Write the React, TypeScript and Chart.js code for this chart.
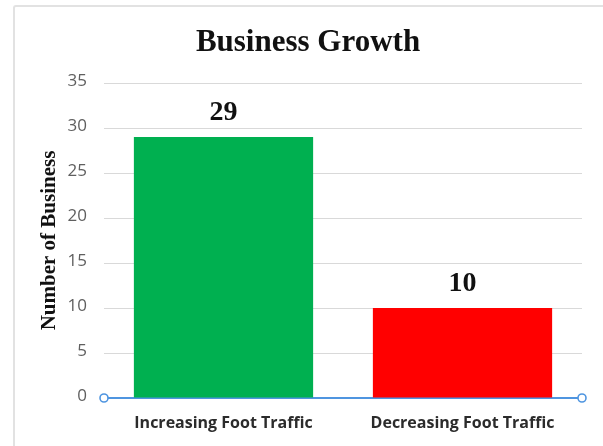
import React, { useEffect, useRef } from "react";
import { Chart, registerables } from "chart.js";

Chart.register(...registerables);

const categories = ["Increasing Foot Traffic", "Decreasing Foot Traffic"];
const businessCounts = [29, 10];
const barColors = ["#00B050", "#FF0000"];
const yTicks = [0, 5, 10, 15, 20, 25, 30, 35];
const chartTitle = "Business Growth";
const yAxisTitle = "Number of Business";

const AXIS_BLUE = "#4f95e0";

const titleText = {
  id: "titleText",
  afterDraw(chart: any) {
    const ctx = chart.ctx;
    ctx.save();
    ctx.font = "bold 31px 'Liberation Serif', serif";
    ctx.fillStyle = "#111111";
    ctx.textAlign = "center";
    ctx.textBaseline = "alphabetic";
    ctx.fillText(chartTitle, 308, 51);
    ctx.restore();
  },
};

const valueLabels = {
  id: "valueLabels",
  afterDatasetsDraw(chart: any) {
    const ctx = chart.ctx;
    const meta = chart.getDatasetMeta(0);
    ctx.save();
    ctx.font = "bold 28px 'Liberation Serif', serif";
    ctx.fillStyle = "#111111";
    ctx.textAlign = "center";
    ctx.textBaseline = "alphabetic";
    meta.data.forEach((bar: any, i: number) => {
      const v = chart.data.datasets[0].data[i];
      ctx.fillText(String(v), bar.x, bar.y - 17);
    });
    ctx.restore();
  },
};

const axisHandles = {
  id: "axisHandles",
  afterDraw(chart: any) {
    const ctx = chart.ctx;
    const y = chart.scales.y.getPixelForValue(0);
    const { left, right } = chart.chartArea;
    ctx.save();
    ctx.lineWidth = 1.6;
    ctx.strokeStyle = AXIS_BLUE;
    ctx.fillStyle = "#ffffff";
    [left, right].forEach((x) => {
      ctx.beginPath();
      ctx.arc(x, y, 4, 0, Math.PI * 2);
      ctx.fill();
      ctx.stroke();
    });
    ctx.restore();
  },
};

export default function App() {
  const canvasRef = useRef<HTMLCanvasElement | null>(null);

  useEffect(() => {
    if (!canvasRef.current) return;
    const chart = new Chart(canvasRef.current, {
      type: "bar",
      data: {
        labels: categories,
        datasets: [
          {
            data: businessCounts,
            backgroundColor: barColors,
            borderWidth: 0,
            barPercentage: 0.75,
            categoryPercentage: 1,
          },
        ],
      },
      options: {
        responsive: false,
        animation: false,
        devicePixelRatio: 1,
        layout: { padding: { left: 0, right: 21, top: 83, bottom: 0 } },
        plugins: {
          legend: { display: false },
          tooltip: { enabled: false },
          title: { display: false },
        },
        scales: {
          x: {
            grid: { display: false, drawTicks: false },
            border: { display: true, color: AXIS_BLUE, width: 2 },
            ticks: {
              padding: 16,
              color: "#2b2b2b",
              font: { family: "'Open Sans', sans-serif", size: 16, weight: 700 },
            },
            afterFit(scale: any) {
              scale.height = 48;
            },
          },
          y: {
            min: 0,
            max: 35,
            afterBuildTicks(scale: any) {
              scale.ticks = yTicks.map((v) => ({ value: v }));
            },
            grid: {
              drawTicks: false,
              color: (c: any) => (c.tick && c.tick.value === 0 ? "rgba(0,0,0,0)" : "#d9d9d9"),
              lineWidth: 1,
            },
            border: { display: false },
            ticks: {
              padding: 17,
              labelOffset: -2,
              color: "#5f5f5f",
              font: { family: "'Open Sans', sans-serif", size: 17 },
            },
            title: {
              display: true,
              text: yAxisTitle,
              color: "#111111",
              font: { family: "'Liberation Serif', serif", size: 21, weight: "bold" },
              padding: { top: 37, bottom: 0 },
            },
            afterFit(scale: any) {
              scale.width = 104;
            },
          },
        },
      },
      plugins: [valueLabels, axisHandles, titleText],
    });
    return () => chart.destroy();
  }, []);

  return (
    <div style={{ position: "fixed", left: 0, top: 0, width: 603, height: 446, overflow: "hidden", background: "#fff" }}>
      <div
        style={{
          position: "absolute",
          left: 13,
          top: 5,
          width: 600,
          height: 460,
          borderLeft: "2px solid #e2e2e2",
          borderTop: "2px solid #e2e2e2",
          borderTopLeftRadius: 3,
          boxSizing: "border-box",
        }}
      />
      <canvas ref={canvasRef} width={603} height={446} style={{ position: "absolute", left: 0, top: 0 }} />
    </div>
  );
}
